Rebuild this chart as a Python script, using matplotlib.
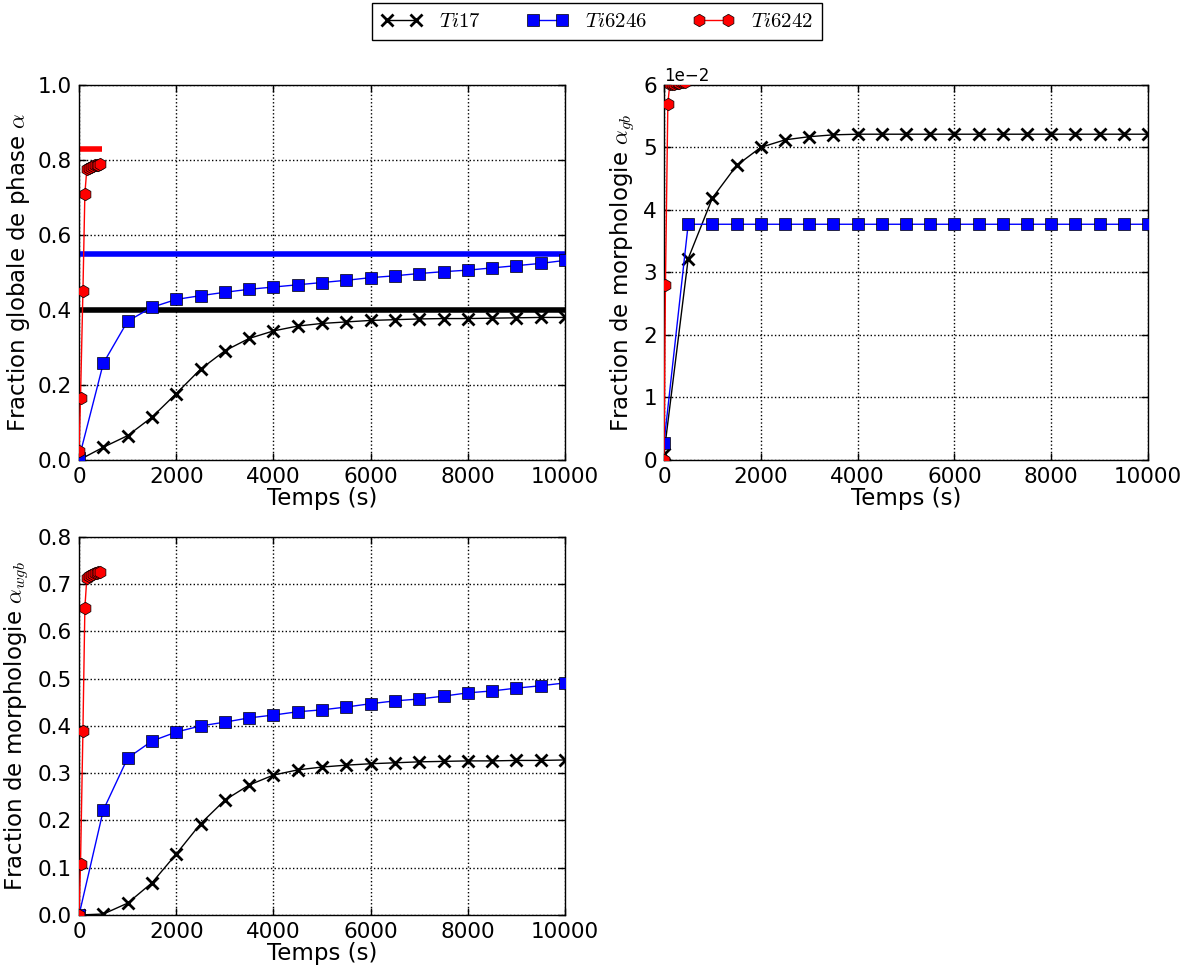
import numpy as np
import matplotlib
matplotlib.use('Agg')
import matplotlib.pyplot as plt

plt.rcParams['mathtext.fontset'] = 'cm'
plt.rcParams['font.family'] = ['DejaVu Sans']
plt.rcParams['font.size'] = 15

# temps (s)
t = np.arange(0, 10001, 500)
t_6242 = [0, 30, 80, 120, 160, 200, 240, 280, 320, 360, 400, 440]

# fraction globale de phase alpha
alpha_ti17 = [0.0, 0.034, 0.065, 0.114, 0.177, 0.242, 0.291, 0.324, 0.344, 0.357, 0.364,
              0.368, 0.372, 0.374, 0.376, 0.377, 0.377, 0.378, 0.379, 0.380, 0.380]
alpha_ti6246 = [0.005, 0.258, 0.370, 0.407, 0.428, 0.438, 0.447, 0.455, 0.461, 0.467, 0.473,
                0.479, 0.486, 0.491, 0.497, 0.502, 0.506, 0.512, 0.518, 0.524, 0.532]
alpha_ti6242 = [0.025, 0.165, 0.45, 0.71, 0.775, 0.779, 0.781, 0.783, 0.785, 0.786, 0.787, 0.788]

# valeurs d'equilibre
eq_vals = [0.40, 0.55, 0.83]
eq_xmax = [10000, 10000, 470]

# morphologie alpha_gb
gb_ti17 = [0.001, 0.0322, 0.0419, 0.0471, 0.0500, 0.0512, 0.0517, 0.0520, 0.0521, 0.0521, 0.0521,
           0.0521, 0.0521, 0.0521, 0.0521, 0.0521, 0.0521, 0.0521, 0.0521, 0.0521, 0.0521]
gb_ti6246 = [0.0027] + [0.0377] * 20
gb_ti6242 = [0.0, 0.028, 0.057, 0.0601, 0.0602, 0.0602, 0.0603, 0.0603, 0.0603, 0.0604, 0.0604, 0.0604]

# morphologie alpha_wgb
wgb_ti17 = [0.0, 0.002, 0.025, 0.068, 0.129, 0.193, 0.243, 0.275, 0.296, 0.307, 0.313,
            0.317, 0.320, 0.322, 0.324, 0.325, 0.326, 0.326, 0.327, 0.327, 0.328]
wgb_ti6246 = [0.0, 0.222, 0.332, 0.368, 0.387, 0.400, 0.408, 0.417, 0.423, 0.430, 0.434,
              0.440, 0.447, 0.453, 0.457, 0.463, 0.470, 0.474, 0.480, 0.485, 0.491]
wgb_ti6242 = [0.0, 0.107, 0.39, 0.65, 0.713, 0.718, 0.720, 0.722, 0.723, 0.724, 0.725, 0.726]

labels = [r'$Ti17$', r'$Ti6246$', r'$Ti6242$']

TICK_FS = 15.5
LABEL_FS = 16.5


def style_axes(ax):
    ax.tick_params(direction='in', top=True, right=True, length=5, width=1,
                   labelsize=TICK_FS, pad=5)
    ax.grid(True, linestyle=':', color='k', linewidth=1)
    for s in ax.spines.values():
        s.set_linewidth(1)
    ax.set_xlim(0, 10000)
    ax.set_xticks(np.arange(0, 10001, 2000))
    ax.set_xlabel('Temps (s)', fontsize=LABEL_FS, labelpad=0)


def plot_series(ax, y17, y6246, y6242):
    l1, = ax.plot(t, y17, 'k-', marker='x', ms=9, mew=2, lw=1, label=labels[0], zorder=3)
    l2, = ax.plot(t, y6246, 'b-', marker='s', ms=9, mec='k', mew=0.5, lw=1, label=labels[1], zorder=3)
    l3, = ax.plot(t_6242, y6242, 'r-', marker='h', ms=9, mec='k', mew=0.5, lw=1, label=labels[2], zorder=3)
    return [l1, l2, l3]


fig = plt.figure(figsize=(11.94, 9.67), dpi=100)

ax1 = fig.add_axes([0.0662, 0.5243, 0.407, 0.388])
for v, xm, c in zip(eq_vals, eq_xmax, ['k', 'b', 'r']):
    ax1.plot([0, xm], [v, v], color=c, lw=4, zorder=2, solid_capstyle='butt')
handles = plot_series(ax1, alpha_ti17, alpha_ti6246, alpha_ti6242)
ax1.set_ylim(0, 1.0)
ax1.set_yticks(np.arange(0, 1.01, 0.2))
ax1.set_ylabel(r'Fraction globale de phase $\alpha$', fontsize=LABEL_FS)
style_axes(ax1)

ax2 = fig.add_axes([0.5561, 0.5243, 0.4054, 0.388])
plot_series(ax2, gb_ti17, gb_ti6246, gb_ti6242)
ax2.set_ylim(0, 0.06)
ax2.set_yticks(np.arange(0, 0.0601, 0.01))
ax2.ticklabel_format(axis='y', style='sci', scilimits=(0, 0))
ax2.yaxis.get_offset_text().set_fontsize(12)
ax2.set_ylabel(r'Fraction de morphologie $\alpha_{gb}$', fontsize=LABEL_FS)
style_axes(ax2)

ax3 = fig.add_axes([0.0662, 0.0538, 0.407, 0.391])
plot_series(ax3, wgb_ti17, wgb_ti6246, wgb_ti6242)
ax3.set_ylim(0, 0.8)
ax3.set_yticks(np.arange(0, 0.81, 0.1))
ax3.set_ylabel(r'Fraction de morphologie $\alpha_{wgb}$', fontsize=LABEL_FS)
style_axes(ax3)

leg = fig.legend(handles, labels, loc='upper center', bbox_to_anchor=(0.5, 0.997), ncol=3,
                 numpoints=2, fancybox=False, framealpha=1, edgecolor='k', fontsize=15,
                 columnspacing=2.2, borderaxespad=0)
leg.get_frame().set_linewidth(1)

fig.savefig('out.png', dpi=100)
